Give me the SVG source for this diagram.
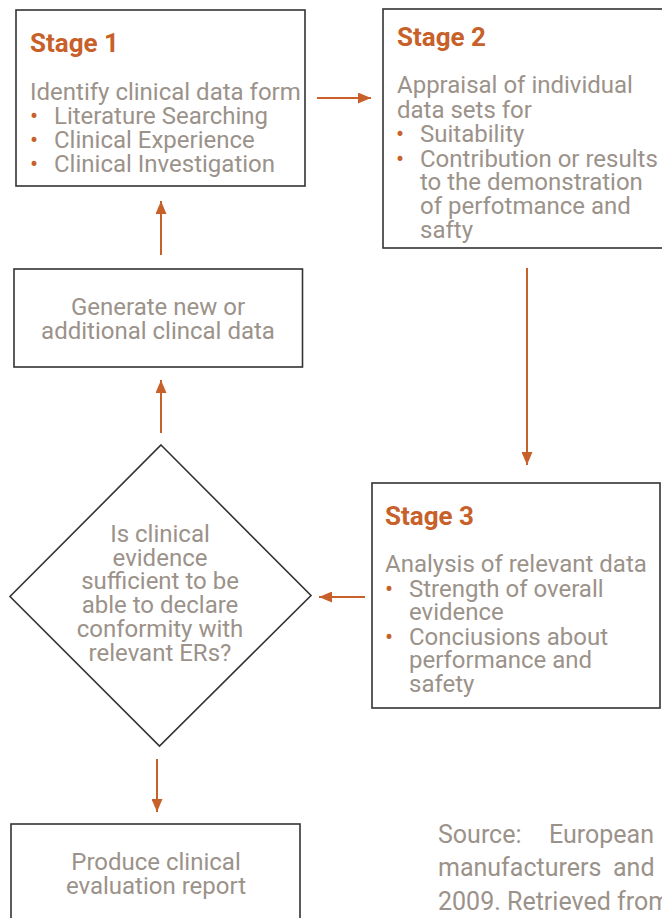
<svg xmlns="http://www.w3.org/2000/svg" width="662" height="918" viewBox="0 0 662 918">
  <defs>
    <style>
      .box { fill: #ffffff; stroke: #333333; stroke-width: 1.6; }
      .title { font-family: Roboto, "Liberation Sans", sans-serif; font-weight: 700; font-size: 26px; fill: #c8602a; }
      .txt { font-family: Roboto, "Liberation Sans", sans-serif; font-size: 24px; fill: #9b928a; }
      .src { font-size: 25px; }
      .mid { text-anchor: middle; }
      .bul { fill: #c8602a; }
      .conn { fill: none; stroke: #c8602a; stroke-width: 2; marker-end: url(#arrow); }
    </style>
    <marker id="arrow" markerUnits="userSpaceOnUse" markerWidth="13" markerHeight="11" refX="13" refY="5.5" orient="auto">
      <path d="M0,0 L13,5.5 L0,11 z" fill="#c8602a"/>
    </marker>
  </defs>
  <rect width="662" height="918" fill="#ffffff"/>

  <g id="connectors">
    <path class="conn" d="M317,98 L371,98"/>
    <path class="conn" d="M527,268 L527,465"/>
    <path class="conn" d="M365,597 L319,597"/>
    <path class="conn" d="M161,433 L161,380"/>
    <path class="conn" d="M161,255 L161,201"/>
    <path class="conn" d="M157,759 L157,812"/>
  </g>

  <g id="stage1">
    <rect class="box" x="16" y="10" width="289" height="176"/>
    <text class="title" x="30" y="52">Stage 1</text>
    <text class="txt" x="30" y="100">Identify clinical data form</text>
    <text class="txt" x="30" y="124"><tspan class="bul">•</tspan><tspan x="54">Literature Searching</tspan></text>
    <text class="txt" x="30" y="148"><tspan class="bul">•</tspan><tspan x="54">Clinical Experience</tspan></text>
    <text class="txt" x="30" y="172"><tspan class="bul">•</tspan><tspan x="54">Clinical Investigation</tspan></text>
  </g>

  <g id="stage2">
    <rect class="box" x="383" y="9" width="290" height="239"/>
    <text class="title" x="397" y="46">Stage 2</text>
    <text class="txt" x="397" y="93">Appraisal of individual</text>
    <text class="txt" x="397" y="118">data sets for</text>
    <text class="txt" x="396" y="142"><tspan class="bul">•</tspan><tspan x="420">Suitability</tspan></text>
    <text class="txt" x="396" y="167"><tspan class="bul">•</tspan><tspan x="420">Contribution or results</tspan></text>
    <text class="txt" x="420" y="190">to the demonstration</text>
    <text class="txt" x="420" y="214">of perfotmance and</text>
    <text class="txt" x="420" y="238">safty</text>
  </g>

  <g id="stage3">
    <rect class="box" x="372" y="483" width="288" height="225"/>
    <text class="title" x="385" y="525">Stage 3</text>
    <text class="txt" x="385" y="572">Analysis of relevant data</text>
    <text class="txt" x="385" y="597"><tspan class="bul">•</tspan><tspan x="409">Strength of overall</tspan></text>
    <text class="txt" x="409" y="620">evidence</text>
    <text class="txt" x="385" y="645"><tspan class="bul">•</tspan><tspan x="409">Conciusions about</tspan></text>
    <text class="txt" x="409" y="668">performance and</text>
    <text class="txt" x="409" y="692">safety</text>
  </g>

  <g id="decision">
    <path class="box" d="M161,445 L311,595.5 L159.5,746 L10,596.5 z"/>
    <text class="txt mid" x="160" y="542">Is clinical</text>
    <text class="txt mid" x="160" y="566">evidence</text>
    <text class="txt mid" x="160" y="589">sufficient to be</text>
    <text class="txt mid" x="160" y="613">able to declare</text>
    <text class="txt mid" x="160" y="637">conformity with</text>
    <text class="txt mid" x="160" y="661">relevant ERs?</text>
  </g>

  <g id="generate">
    <rect class="box" x="14" y="269" width="288.5" height="98"/>
    <text class="txt mid" x="158" y="315">Generate new or</text>
    <text class="txt mid" x="158" y="339">additional clincal data</text>
  </g>

  <g id="report">
    <rect class="box" x="11" y="824" width="289" height="110"/>
    <text class="txt mid" x="156" y="870">Produce clinical</text>
    <text class="txt mid" x="156" y="894">evaluation report</text>
  </g>

  <g id="source">
    <text class="txt src" x="438" y="843">Source:<tspan x="549">European</tspan></text>
    <text class="txt src" x="438" y="876">manufacturers<tspan x="613">and</tspan></text>
    <text class="txt src" x="438" y="910">2009. Retrieved from</text>
  </g>
</svg>
